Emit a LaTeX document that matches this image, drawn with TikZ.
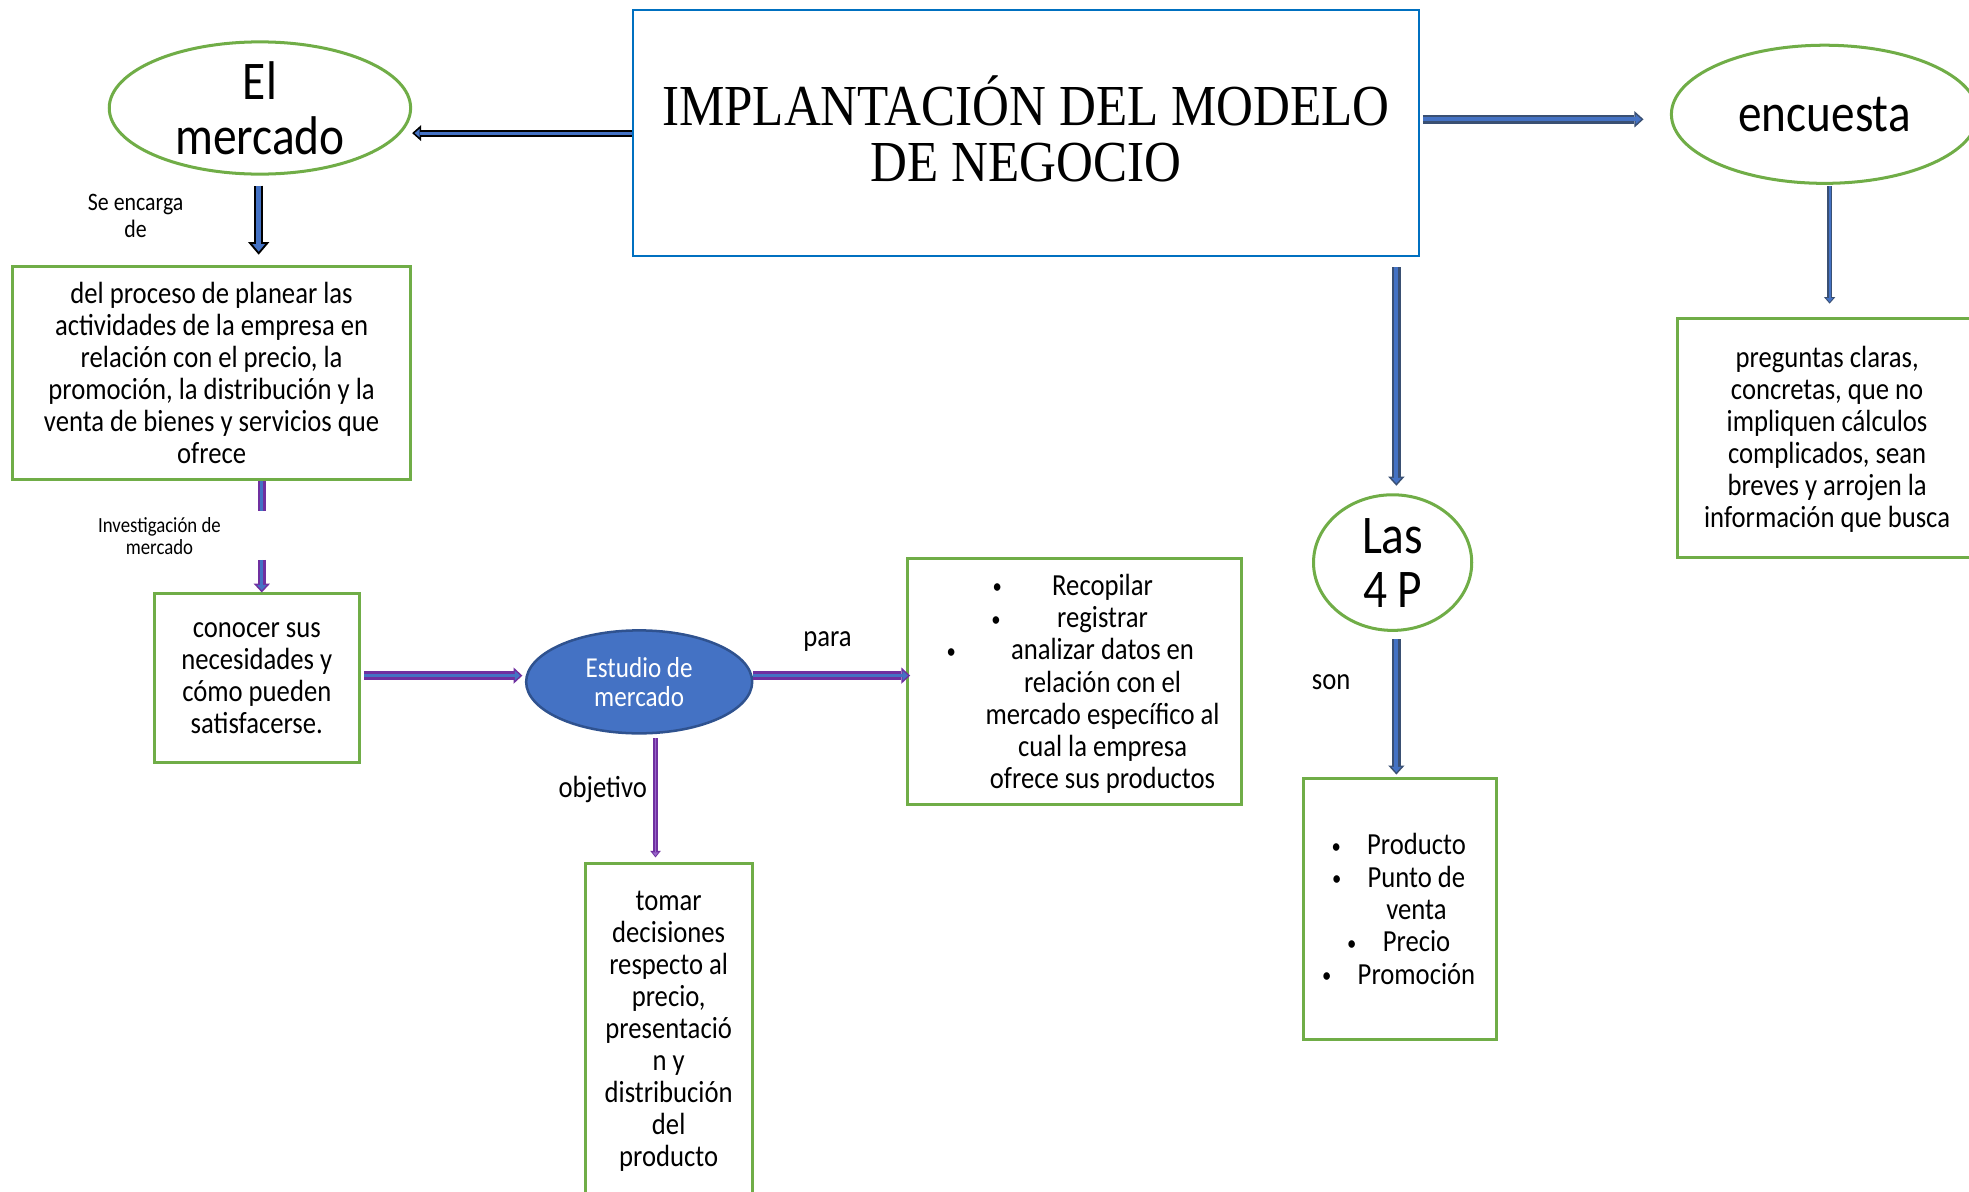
\documentclass[tikz,border=0pt]{standalone}
\usepackage{fontspec}
\setmainfont{Carlito}[FakeStretch=0.87]
\newfontfamily\serifttl{Liberation Serif}[FakeStretch=0.88]
\usetikzlibrary{shapes.geometric,arrows.meta,calc}
\definecolor{grn}{HTML}{70AD47}
\definecolor{tblue}{HTML}{0070C0}
\definecolor{mblue}{HTML}{4472C4}
\definecolor{estdraw}{HTML}{2F528F}
\definecolor{steel}{HTML}{3A5073}
\definecolor{purp}{HTML}{7030A0}
\definecolor{lpurp}{HTML}{9966CC}
\newcommand\fsz[2]{\fontsize{#1}{#2}\selectfont}
\newcommand\bul[1]{\llap{{\fsz{8.5}{8.5}\raisebox{0.6pt}{\textbullet}}\hspace{#1}}}
\newcommand\duo[3]{\draw[#1]#3;\draw[#2]#3;}
\newcommand\shiftv[2]{\raisebox{#1}[\height][\depth]{#2}}
\begin{document}
\begin{tikzpicture}[x=0.5pt,y=-0.5pt,
  box/.style={draw=grn, line width=1.2pt, inner sep=0pt, align=center, font=\fsz{12.2}{12.75}},
  oval/.style={ellipse, draw=grn, line width=1.2pt, inner sep=0pt, align=center},
  lbl/.style={inner sep=0pt, align=center, font=\fsz{12.2}{12.75}},
  kLo/.style={draw=black, line width=2.8pt, -{Triangle[length=3.6pt,width=6.4pt,line width=0pt]}},
  kLi/.style={draw=mblue, line width=1.2pt, shorten >=1pt, -{Triangle[length=2pt,width=3.4pt,line width=0pt]}},
  kDo/.style={draw=black, line width=3.6pt, -{Triangle[length=5pt,width=8.5pt,line width=0pt]}},
  kDi/.style={draw=mblue, line width=1.8pt, shorten >=1.2pt, -{Triangle[length=3pt,width=5pt,line width=0pt]}},
  sBo/.style={draw=steel, line width=3.4pt, -{Triangle[length=3.6pt,width=6.5pt,line width=0pt]}},
  sBi/.style={draw=mblue, line width=1.6pt, shorten >=0.9pt, -{Triangle[length=2.2pt,width=3.8pt,line width=0pt]}},
  sTo/.style={draw=steel, line width=1.8pt, -{Triangle[length=2.6pt,width=4.5pt,line width=0pt]}},
  sTi/.style={draw=mblue, line width=0.7pt, shorten >=0.6pt, -{Triangle[length=1.6pt,width=2.6pt,line width=0pt]}},
  pBo/.style={draw=purp, line width=3.3pt, -{Triangle[length=3.5pt,width=6.5pt,line width=0pt]}},
  pBi/.style={draw=mblue, line width=1.2pt, shorten >=0.9pt, -{Triangle[length=2.1pt,width=3.8pt,line width=0pt]}},
  pTo/.style={draw=purp, line width=1.6pt, -{Triangle[length=2.6pt,width=4.2pt,line width=0pt]}},
  pTi/.style={draw=lpurp, line width=0.5pt, shorten >=0.6pt, -{Triangle[length=1.4pt,width=2.2pt,line width=0pt]}},
]
\useasboundingbox (0,0) rectangle (1568,949.2);

% nodes
\node[draw=tblue, line width=1pt, minimum width=313pt, minimum height=98pt, inner sep=0pt,
      font=\serifttl\fsz{23.1}{22.5}] (title) at (817,106)
      {\shiftv{-1.5pt}{\begin{tabular}{@{}c@{}}IMPLANTACIÓN DEL MODELO\\DE NEGOCIO\end{tabular}}};
\node[oval, minimum width=120pt, minimum height=48pt, font=\fsz{21.7}{22}] (merc) at (207,86) {El\\mercado};
\node[oval, minimum width=122pt, minimum height=55pt, font=\fsz{21.6}{22}] (enc) at (1453,91) {encuesta};
\node[box, minimum width=158.5pt, minimum height=85pt] (proc) at (168.5,297)
  {del proceso de planear las\\actividades de la empresa en\\relación con el precio, la\\promoción, la distribución y la\\venta de bienes y servicios que\\ofrece};
\node[box, minimum width=81.5pt, minimum height=67pt] (con) at (204.5,540)
  {conocer sus\\necesidades y\\cómo pueden\\satisfacerse.};
\node[ellipse, draw=estdraw, fill=mblue, line width=1pt, minimum width=90pt, minimum height=41pt,
      inner sep=0pt, align=center, text=white, font=\fsz{11.5}{11.5}] (est) at (509,543) {Estudio de\\mercado};
\node[box, minimum width=133pt, minimum height=98pt, font=\fsz{12.2}{12.83}] (rec) at (856,543)
  {\hspace*{22pt}\shiftv{-1.5pt}{\begin{tabular}{@{}c@{}}\bul{20pt}Recopilar\\ \bul{22.5pt}registrar\\ \bul{22pt}analizar datos en\\ relación con el\\ mercado específico al\\ cual la empresa\\ ofrece sus productos\end{tabular}}};
\node[box, minimum width=66.5pt, minimum height=133pt] (tomar) at (532.5,821)
  {tomar\\decisiones\\respecto al\\precio,\\presentació\\n y\\distribución\\del\\producto};
\node[oval, minimum width=63pt, minimum height=54pt, font=\fsz{21.7}{21.5}] (las) at (1109,448) {Las\\4 P};
\node[box, minimum width=77pt, minimum height=104pt, font=\fsz{12.2}{12.9}] (prod) at (1115,724)
  {\hspace*{13pt}\shiftv{-1.5pt}{\begin{tabular}{@{}c@{}}\bul{10.5pt}Producto\\ \bul{10.5pt}Punto de\\ venta\\ \bul{10.5pt}Precio\\ \bul{10.5pt}Promoción\end{tabular}}};
\node[box, minimum width=119pt, minimum height=95pt] (preg) at (1455,349)
  {\shiftv{-1pt}{\begin{tabular}{@{}c@{}}preguntas claras,\\concretas, que no\\impliquen cálculos\\complicados, sean\\breves y arrojen la\\información que busca\end{tabular}}};

% labels
\node[lbl, font=\fsz{10}{11}] (lse) at (108,172) {Se encarga\\de};
\node[lbl, font=\fsz{8.6}{9}] (linv) at (127,427) {Investigación de\\mercado};
\node[lbl] (lpara) at (659,511) {para};
\node[lbl] (lobj) at (480,629) {objetivo};
\node[lbl] (lson) at (1060,543) {son};

% connectors
\duo{kLo}{kLi}{(title.west) -- (merc.east |- title.west)}
\duo{kDo}{kDi}{($(merc.south)+(-1,8)$) -- ($(merc.south |- proc.north)+(-1,-8)$)}
\duo{sBo}{sBi}{($(title.east)+(2,-11)$) -- ($(enc.west |- title.east)+(-21,-11)$)}
\duo{sBo}{sBi}{($(title.south -| las.north)+(3,8)$) -- ($(las.north)+(3,-6)$)}
\duo{sBo}{sBi}{($(las.south)+(3,6)$) -- ($(las.south |- prod.north)+(3,-2)$)}
\duo{sTo}{sTi}{($(enc.south)+(4,1)$) -- ($(enc.south |- preg.north)+(4,-11)$)}
\duo{pBo}{pBi}{($(proc.south -| con.north)+(4,0)$) -- ++(0,24) ($(con.north)+(4,-26)$) -- ($(con.north)+(4,0)$)}
\duo{pBo}{pBi}{($(con.east)+(3,-2)$) -- ($(est.west |- con.east)+(-2,-2)$)}
\duo{pBo}{pBi}{($(est.east)+(0,-5)$) -- ($(rec.west)+(3,-5)$)}
\duo{pTo}{pTi}{($(est.south)+(13,3)$) -- ($(est.south |- tomar.north)+(13,-4)$)}
\end{tikzpicture}
\end{document}
